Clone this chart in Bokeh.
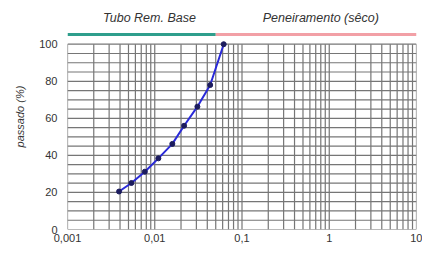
from bokeh.plotting import figure
from bokeh.models import Range1d, FixedTicker, CustomJSTickFormatter, ColumnDataSource
from bokeh.core.properties import value
from bokeh.embed import file_html
from bokeh.resources import INLINE

# data: grain diameter (mm) vs percent passing
diam = [0.0039, 0.0054, 0.0077, 0.0110, 0.0159, 0.0217, 0.0308, 0.0432, 0.0617]
passing = [20.5, 25.1, 31.2, 38.4, 46.2, 56.0, 66.3, 78.0, 100.0]

# method bands on top
band_names = ["Tubo Rem. Base", "Peneiramento (sêco)"]
band_start = [0.001, 0.05]
band_end = [0.05, 10.0]
band_colors = ["#2f9e8c", "#f2a0a6"]
band_label_x = [0.0087, 0.80]

x_ticks = [0.001, 0.01, 0.1, 1, 10]
y_ticks = [0, 20, 40, 60, 80, 100]

x_min, x_max = 0.001, 10.0
y_min, y_max = 0, 100

p = figure(width=422, height=248, x_axis_type="log",
           x_range=Range1d(x_min, x_max), y_range=Range1d(0, 123.6),
           output_backend="svg", toolbar_location=None,
           min_border_left=67, min_border_right=6, min_border_top=0, min_border_bottom=19)
p.outline_line_color = None
p.xgrid.visible = False
p.ygrid.visible = False
p.background_fill_color = "white"

# grid lines (log decades with minor subdivisions; every 5 %)
vx = []
for k in range(-3, 1):
    for m in range(1, 10):
        vx.append(m * 10.0 ** k)
vx.append(10.0)
p.segment(x0=vx, y0=[y_min] * len(vx), x1=vx, y1=[y_max] * len(vx),
          line_color="#767676", line_width=1.2)
hy = list(range(0, 101, 5))
p.segment(x0=[x_min] * len(hy), y0=hy, x1=[x_max] * len(hy), y1=hy,
          line_color="#767676", line_width=1.2)

# bands
band_y = 105.2
p.segment(x0=band_start, y0=[band_y] * 2, x1=band_end, y1=[band_y] * 2,
          line_color=band_colors, line_width=3)
p.text(x=band_label_x, y=[114.4] * 2, text=band_names,
       text_font=value("Liberation Sans"), text_font_size="12.5px",
       text_font_style="italic", text_color="#333333",
       text_align="center", text_baseline="middle")

# data
src = ColumnDataSource(dict(x=diam, y=passing))
p.line("x", "y", source=src, line_color="#2a2ad8", line_width=2)
p.scatter("x", "y", source=src, size=5, fill_color="#1c1c5e", line_color="#1c1c5e")

# axes
p.xaxis.ticker = FixedTicker(ticks=x_ticks)
p.xaxis.formatter = CustomJSTickFormatter(code="return tick.toString().replace('.', ',');")
p.yaxis.ticker = FixedTicker(ticks=y_ticks)
for ax in (p.xaxis[0], p.yaxis[0]):
    ax.axis_line_color = None
    ax.major_tick_line_color = None
    ax.minor_tick_line_color = None
    ax.major_tick_out = 0
    ax.major_tick_in = 0
    ax.major_label_text_font = "Liberation Sans"
    ax.major_label_text_font_size = "11px"
    ax.major_label_text_color = "#333333"
p.xaxis.major_label_standoff = 4
p.yaxis.major_label_standoff = 10
p.yaxis.axis_label = "passado  (%)"
p.yaxis.axis_label_text_font = "Liberation Sans"
p.yaxis.axis_label_text_font_size = "11px"
p.yaxis.axis_label_text_font_style = "italic"
p.yaxis.axis_label_text_color = "#333333"
p.yaxis.axis_label_standoff = 10

open("out.html", "w").write(file_html(p, INLINE))
